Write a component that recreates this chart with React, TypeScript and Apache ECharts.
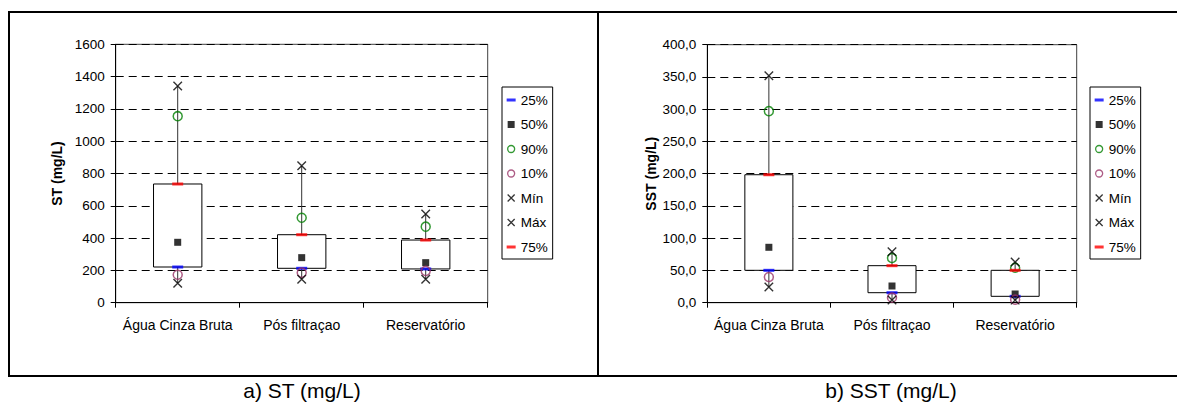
import React, { useEffect, useRef } from "react";
import * as echarts from "echarts";

const categories = ["Água Cinza Bruta", "Pós filtraçao", "Reservatório"];

// a) ST (mg/L)
const stP25 = [221, 213, 209];
const stP50 = [374, 279, 248];
const stP90 = [1155, 526, 471];
const stP10 = [173, 186, 197];
const stMin = [120, 145, 145];
const stMax = [1342, 848, 549];
const stP75 = [735, 421, 388];

// b) SST (mg/L)
const sstP25 = [50.2, 15.5, 9.9];
const sstP50 = [85.9, 25.9, 13.5];
const sstP90 = [297, 69.3, 54.3];
const sstP10 = [39.8, 7.8, 4.7];
const sstMin = [24.3, 4.2, 4.0];
const sstMax = [352, 79, 63];
const sstP75 = [198.4, 57.4, 50.2];

const legendNames = ["25%", "50%", "90%", "10%", "Mín", "Máx", "75%"];
const captions = ["a) ST (mg/L)", "b) SST (mg/L)"];
const yTitles = ["ST (mg/L)", "SST (mg/L)"];

const FONT = "'Liberation Sans', Arial, Helvetica, sans-serif";
const TRANSPARENT = "rgba(0,0,0,0)";

const X_PATH = "path://M0,0L10,10M10,0L0,10";

function legendData() {
  return [
    { name: legendNames[0], icon: "path://M0,0M9,9M0,3h9v3h-9z", itemStyle: { color: "#0000ff", borderWidth: 0 } },
    { name: legendNames[1], icon: "path://M0,0M9,9M1,1h7v7h-7z", itemStyle: { color: "#000", borderWidth: 0 } },
    {
      name: legendNames[2],
      icon: "path://M0,0M9,9M1,4.5a3.5,3.5 0 1,0 7,0a3.5,3.5 0 1,0 -7,0z",
      itemStyle: { color: TRANSPARENT, borderColor: "#008000", borderWidth: 1.3 },
    },
    {
      name: legendNames[3],
      icon: "path://M0,0M9,9M1,4.5a3.5,3.5 0 1,0 7,0a3.5,3.5 0 1,0 -7,0z",
      itemStyle: { color: TRANSPARENT, borderColor: "#993366", borderWidth: 1.3 },
    },
    { name: legendNames[4], icon: "path://M0,0M9,9M1,1L8,8M8,1L1,8", itemStyle: { color: TRANSPARENT, borderColor: "#000", borderWidth: 1.3 } },
    { name: legendNames[5], icon: "path://M0,0M9,9M1,1L8,8M8,1L1,8", itemStyle: { color: TRANSPARENT, borderColor: "#000", borderWidth: 1.3 } },
    { name: legendNames[6], icon: "path://M0,0M9,9M0,3h9v3h-9z", itemStyle: { color: "#ff0000", borderWidth: 0 } },
  ];
}

function markerSeries(idx: number, vals: number[][]) {
  const [p25, p50, p90, p10, mn, mx, p75] = vals;
  const base = { type: "scatter", xAxisIndex: idx, yAxisIndex: idx, silent: true, z: 5 };
  return [
    { ...base, name: legendNames[0], data: p25, symbol: "rect", symbolSize: [11, 3], itemStyle: { color: "#0000ff" } },
    { ...base, name: legendNames[1], data: p50, symbol: "rect", symbolSize: 7, itemStyle: { color: "#000" } },
    {
      ...base, name: legendNames[2], data: p90, symbol: "circle", symbolSize: 9,
      itemStyle: { color: TRANSPARENT, borderColor: "#008000", borderWidth: 1.5 },
    },
    {
      ...base, name: legendNames[3], data: p10, symbol: "circle", symbolSize: 9,
      itemStyle: { color: TRANSPARENT, borderColor: "#993366", borderWidth: 1.5 },
    },
    {
      ...base, name: legendNames[4], data: mn, symbol: X_PATH, symbolSize: 8.5,
      itemStyle: { color: TRANSPARENT, borderColor: "#000", borderWidth: 1.4 },
    },
    {
      ...base, name: legendNames[5], data: mx, symbol: X_PATH, symbolSize: 8.5,
      itemStyle: { color: TRANSPARENT, borderColor: "#000", borderWidth: 1.4 },
    },
    { ...base, name: legendNames[6], data: p75, symbol: "rect", symbolSize: [11, 3], itemStyle: { color: "#ff0000" } },
  ];
}

function boxSeries(idx: number, mn: number[], mx: number[], q1: number[], q3: number[]) {
  return {
    type: "custom",
    name: "caixa" + idx,
    xAxisIndex: idx,
    yAxisIndex: idx,
    silent: true,
    z: 2,
    encode: { x: 0, y: [1, 2, 3, 4] },
    data: categories.map((_, i) => [i, mn[i], mx[i], q1[i], q3[i]]),
    renderItem: (params: any, api: any) => {
      const x = api.value(0);
      const pMin = api.coord([x, api.value(1)]);
      const pMax = api.coord([x, api.value(2)]);
      const pQ1 = api.coord([x, api.value(3)]);
      const pQ3 = api.coord([x, api.value(4)]);
      const w = api.size([1, 0])[0] * 0.39;
      return {
        type: "group",
        children: [
          {
            type: "line",
            shape: { x1: pMin[0], y1: pMin[1], x2: pMax[0], y2: pMax[1] },
            style: { stroke: "#333", lineWidth: 1 },
          },
          {
            type: "rect",
            shape: { x: pQ1[0] - w / 2, y: pQ3[1], width: w, height: pQ1[1] - pQ3[1] },
            style: { fill: "#fff", stroke: "#000", lineWidth: 1 },
          },
        ],
      };
    },
  };
}

function xAxis(idx: number) {
  return {
    type: "category",
    gridIndex: idx,
    data: categories,
    boundaryGap: true,
    axisLine: { lineStyle: { color: "#000", width: 1 } },
    axisTick: { show: true, length: 5, inside: false, lineStyle: { color: "#000" } },
    axisLabel: { interval: 0, margin: 15, fontSize: 14, color: "#000", fontFamily: FONT },
    splitLine: { show: false },
  };
}

function yAxis(idx: number, max: number, interval: number, fmt: (v: number) => string, gap: number) {
  return {
    type: "value",
    gridIndex: idx,
    min: 0,
    max,
    interval,
    name: yTitles[idx],
    nameLocation: "middle",
    nameGap: gap,
    nameTextStyle: { fontSize: 14, fontWeight: "bold", color: "#000", fontFamily: FONT },
    axisLine: { show: true, lineStyle: { color: "#000", width: 1 } },
    axisTick: { show: true, length: 5, inside: false, lineStyle: { color: "#000" } },
    axisLabel: { margin: 11, fontSize: 13.5, color: "#000", fontFamily: FONT, formatter: fmt },
    splitLine: { show: true, lineStyle: { color: "#000", width: 1, type: [8, 5] } },
  };
}

function legend(left: number) {
  return {
    left,
    top: 87,
    orient: "vertical",
    padding: [6, 5, 5, 4],
    itemGap: 10.5,
    itemWidth: 9,
    itemHeight: 9,
    itemTextGap: 5,
    borderColor: "#000",
    borderWidth: 1,
    backgroundColor: "#fff",
    selectedMode: false,
    textStyle: { fontSize: 13.5, color: "#000", fontFamily: FONT, lineHeight: 14 },
    data: legendData(),
  };
}

export default function App() {
  const ref = useRef<HTMLDivElement>(null);
  useEffect(() => {
    document.body.style.margin = "0";
    if (!ref.current) return;
    const chart = echarts.init(ref.current, undefined, { renderer: "svg" });
    const fmtST = (v: number) => String(v);
    const fmtSST = (v: number) => v.toFixed(1).replace(".", ",");
    chart.setOption({
      animation: false,
      backgroundColor: "#fff",
      textStyle: { fontFamily: FONT },
      grid: [
        { left: 115.7, top: 44.3, width: 372, height: 258.4, show: true, borderColor: "#404040", borderWidth: 1, backgroundColor: "#fff" },
        { left: 707.3, top: 44.7, width: 369.4, height: 258, show: true, borderColor: "#404040", borderWidth: 1, backgroundColor: "#fff" },
      ],
      xAxis: [xAxis(0), xAxis(1)],
      yAxis: [yAxis(0, 1600, 200, fmtST, 52), yAxis(1, 400, 50, fmtSST, 49)],
      legend: [legend(502), legend(1090)],
      graphic: [
        {
          type: "rect",
          shape: { x: 9, y: 12, width: 1200, height: 364 },
          style: { fill: TRANSPARENT, stroke: "#000", lineWidth: 2 },
          silent: true,
          z: 0,
        },
        {
          type: "line",
          shape: { x1: 598, y1: 12, x2: 598, y2: 376 },
          style: { stroke: "#000", lineWidth: 2 },
          silent: true,
        },
        {
          type: "text",
          x: 302,
          y: 390,
          style: { text: captions[0], fontSize: 21, fill: "#000", fontFamily: FONT, textAlign: "center", textVerticalAlign: "middle" },
        },
        {
          type: "text",
          x: 891,
          y: 390,
          style: { text: captions[1], fontSize: 21, fill: "#000", fontFamily: FONT, textAlign: "center", textVerticalAlign: "middle" },
        },
      ],
      series: [
        boxSeries(0, stMin, stMax, stP25, stP75),
        ...markerSeries(0, [stP25, stP50, stP90, stP10, stMin, stMax, stP75]),
        boxSeries(1, sstMin, sstMax, sstP25, sstP75),
        ...markerSeries(1, [sstP25, sstP50, sstP90, sstP10, sstMin, sstMax, sstP75]),
      ],
    });
    return () => chart.dispose();
  }, []);
  return <div ref={ref} style={{ width: 1177, height: 403 }} />;
}
